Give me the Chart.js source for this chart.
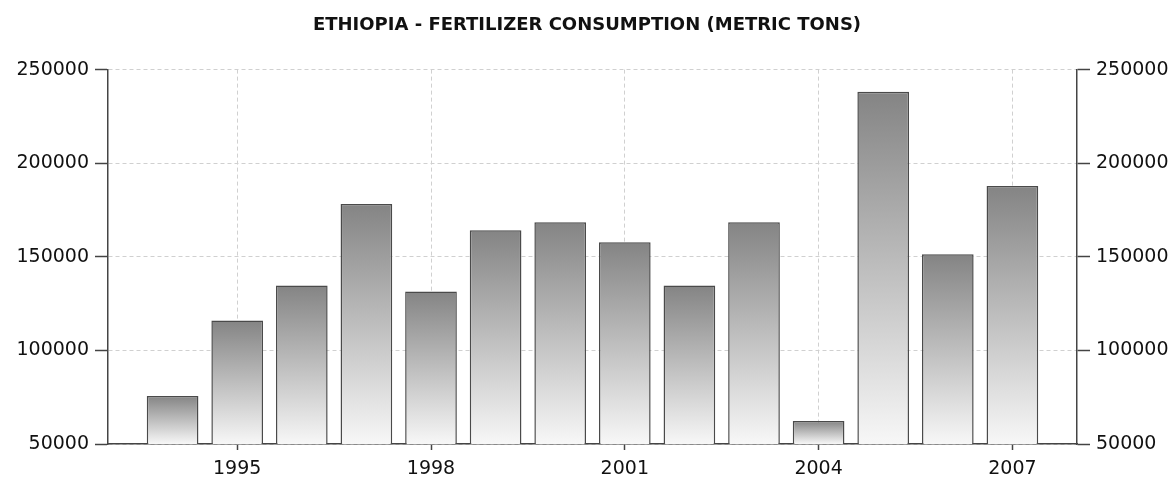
<!DOCTYPE html>
<html>
<head>
<meta charset="utf-8">
<script src="https://cdn.jsdelivr.net/npm/chart.js@4.4.1/dist/chart.umd.min.js"></script>
<style>
  html, body { margin: 0; padding: 0; background: #fff; }
  #wrap { width: 1174px; height: 477px; }
</style>
</head>
<body>
<div id="wrap"><canvas id="myChart" width="1174" height="477"></canvas></div>
<script>
// Fertilizer consumption, metric tons
const years = [1994, 1995, 1996, 1997, 1998, 1999, 2000, 2001, 2002, 2003, 2004, 2005, 2006, 2007];
const tons = [75700, 116000, 134700, 178200, 131500, 164200, 168500, 157800, 134700, 168500, 62300, 238200, 151300, 187800];
const xTickYears = [1995, 1998, 2001, 2004, 2007];
const yTicks = [50000, 100000, 150000, 200000, 250000];

const FONT = 'DejaVu Sans';
const TEXT = '#111';
const AXIS = '#444';

// vertical gradient per bar, dark at the top and almost white at the base
function barFill(ctx) {
    const chart = ctx.chart;
    if (!chart.chartArea || ctx.type !== 'data') return '#aaa';
    const y = chart.scales.y;
    const top = y.getPixelForValue(ctx.parsed.y);
    const bottom = y.getPixelForValue(y.min);
    const g = chart.ctx.createLinearGradient(0, top, 0, bottom);
    g.addColorStop(0, '#848484');
    g.addColorStop(1, '#f7f7f7');
    return g;
}

const yAxis = (pos) => ({
    type: 'linear',
    position: pos,
    min: yTicks[0],
    max: yTicks[yTicks.length - 1],
    afterBuildTicks: s => { s.ticks = yTicks.map(v => ({ value: v })); },
    afterFit: s => { s.width = pos === 'left' ? 108 : 97; },
    border: { display: true, color: AXIS, width: 1.5, dash: [4, 3] },
    grid: {
        drawOnChartArea: pos === 'left',
        color: '#d0d0d0',
        lineWidth: 1,
        tickLength: 13,
        tickColor: AXIS,
        tickWidth: 1.5,
        tickBorderDash: []
    },
    ticks: {
        color: TEXT,
        padding: 6,
        font: { family: FONT, size: 19 },
        callback: v => String(v)
    }
});

const ctx = document.getElementById('myChart').getContext('2d');
new Chart(ctx, {
    type: 'bar',
    data: {
        datasets: [{
            label: 'Fertilizer consumption (metric tons)',
            data: years.map((yr, i) => ({ x: yr, y: tons[i] })),
            backgroundColor: barFill,
            borderColor: '#4a4a4a',
            borderWidth: 1.5,
            borderSkipped: false,
            barPercentage: 0.8,
            categoryPercentage: 1.0,
            yAxisID: 'y'
        }]
    },
    options: {
        responsive: false,
        animation: false,
        layout: { padding: 0 },
        plugins: {
            legend: { display: false },
            tooltip: { enabled: false },
            title: {
                display: true,
                text: 'ETHIOPIA - FERTILIZER CONSUMPTION (METRIC TONS)',
                color: TEXT,
                font: { family: FONT, size: 18, weight: 'bold' },
                padding: { top: 15, bottom: 33 }
            }
        },
        scales: {
            x: {
                type: 'linear',
                min: 1993,
                max: 2008,
                offset: false,
                afterBuildTicks: s => { s.ticks = xTickYears.map(v => ({ value: v })); },
                afterFit: s => { s.height = 33; },
                border: { display: true, color: AXIS, width: 1.5, dash: [4, 3] },
                grid: {
                    offset: false,
                    color: '#d0d0d0',
                    lineWidth: 1,
                    tickLength: 6,
                    tickColor: AXIS,
                    tickWidth: 1.5,
                    tickBorderDash: []
                },
                ticks: {
                    color: TEXT,
                    padding: 8,
                    maxRotation: 0,
                    font: { family: FONT, size: 19 },
                    callback: v => String(v)
                }
            },
            y: yAxis('left'),
            y2: yAxis('right')
        }
    }
});
</script>
</body>
</html>
